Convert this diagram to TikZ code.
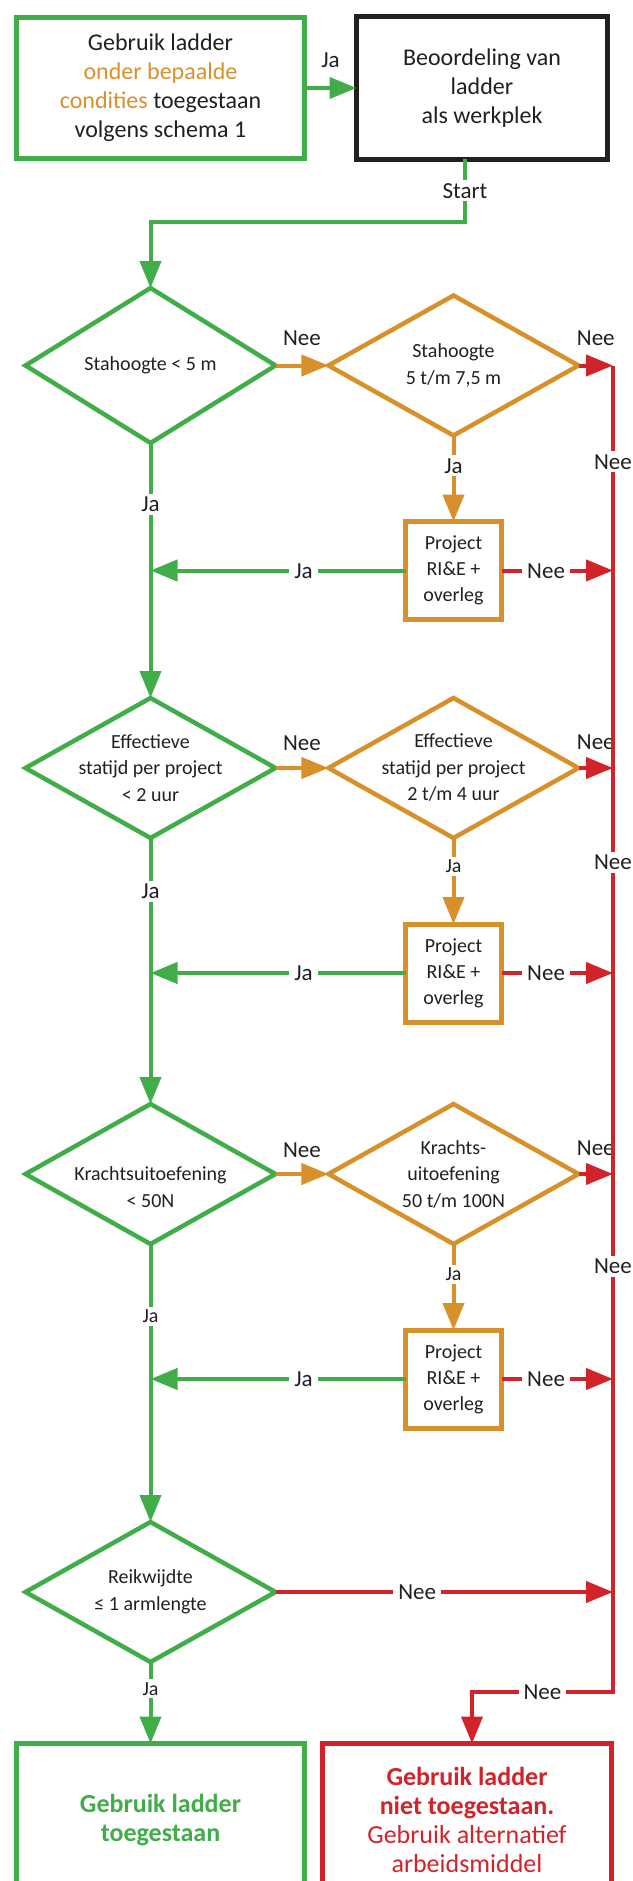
\documentclass[tikz,border=0pt]{standalone}
\usepackage{fontspec}
\setmainfont{Carlito}
\usetikzlibrary{arrows.meta,positioning,shapes.geometric}
\definecolor{grn}{HTML}{40AD49}
\definecolor{orng}{HTML}{D8902A}
\definecolor{rd}{HTML}{D2232A}
\definecolor{ink}{HTML}{231F20}
\newcommand{\fsz}[2]{\fontsize{#1pt}{#2pt}\selectfont}

\begin{document}
\begin{tikzpicture}[
  x=1pt, y=-1pt,
  every node/.style={outer sep=0pt, text=ink},
  box/.style={draw, line width=5pt, align=center, inner sep=0pt, font=\fsz{24}{29}},
  proj/.style={draw=orng, line width=5pt, align=center, minimum width=96pt, minimum height=98pt, inner sep=0pt, font=\fsz{20}{26}},
  dia/.style={diamond, draw, line width=4.5pt, align=center, inner sep=-50pt, minimum width=250pt, minimum height=140pt, font=\fsz{20}{26.5}},
  lbl/.style={fill=white, font=\fsz{23}{23}, inner xsep=5pt, inner ysep=3pt, text height=15pt, text depth=0pt},
  slbl/.style={lbl, font=\fsz{20}{20}, text height=13pt},
  arr/.style={-{Triangle[length=27pt,width=21pt]}, line width=4pt},
  garr/.style={arr, draw=grn},
  oarr/.style={arr, draw=orng},
  rarr/.style={arr, draw=rd}
]
  \useasboundingbox (0,0) rectangle (632,1881);
  \clip (0,0) rectangle (632,1881);

  % top row
  \node[box, draw=grn, minimum width=288pt, minimum height=141pt] (start) at (160.5,88)
    {Gebruik ladder\\\textcolor{orng}{onder bepaalde}\\\textcolor{orng}{condities} toegestaan\\volgens schema 1};
  \node[box, draw=ink, minimum width=251pt, minimum height=143pt, right=52pt of start] (assess)
    {Beoordeling van\\ladder\\als werkplek};

  % stahoogte
  \node[dia, draw=grn, minimum height=155pt] (h1) at (150.5,365.5) {Stahoogte < 5 m};
  \node[dia, draw=orng, right=53pt of h1] (h2) {Stahoogte\\5 t/m 7,5 m};
  \node[proj, below=86pt of h2] (p1) {Project\\RI\&E +\\overleg};

  % statijd
  \node[dia, draw=grn] (t1) at (150.5,768) {Effectieve\\statijd per project\\< 2 uur};
  \node[dia, draw=orng, right=53pt of t1] (t2) {Effectieve\\statijd per project\\2 t/m 4 uur};
  \node[proj, below=86pt of t2] (p2) {Project\\RI\&E +\\overleg};

  % kracht
  \node[dia, draw=grn] (k1) at (150.5,1174) {\rule{0pt}{40pt}Krachtsuitoefening\\< 50N};
  \node[dia, draw=orng, right=53pt of k1] (k2) {Krachts-\\uitoefening\\50 t/m 100N};
  \node[proj, below=86pt of k2] (p3) {Project\\RI\&E +\\overleg};

  % reikwijdte
  \node[dia, draw=grn] (r1) at (150.5,1592) {Reikwijdte\\≤ 1 armlengte};

  % outcomes
  \node[box, draw=grn, minimum width=288pt, minimum height=153pt, font=\fsz{26}{29}\bfseries, text=grn] (yes) at (160.5,1820)
    {Gebruik ladder\\toegestaan};
  \node[box, draw=rd, minimum width=289pt, minimum height=153pt, font=\fsz{26}{29}, text=rd] (no) at (467,1820)
    {\textbf{Gebruik ladder}\\\textbf{niet toegestaan.}\\Gebruik alternatief\\arbeidsmiddel};

  \coordinate (rail) at (613,0);
  \coordinate (turn) at (613,1692);
  \coordinate (drop) at ([xshift=5pt]no.north);

  \draw[garr] (start) -- node[lbl, above=17.5pt] {Ja} (assess);
  \draw[garr] ([xshift=-17pt]assess.south) -- node[lbl] {Start} ++(0,62.5) -| (h1.north);

  \draw[oarr] (h1) -- node[lbl, above=17.5pt] {Nee} (h2);
  \draw[rarr] (h2) -- node[lbl, above=17.5pt] {Nee} (h2 -| rail);
  \draw[oarr] (h2) -- node[lbl, pos=0.35] {Ja} (p1);
  \draw[garr] (p1) -- node[lbl, pos=0.4] {Ja} (p1 -| h1);
  \draw[rarr] (p1) -- node[lbl, pos=0.4] {Nee} (p1 -| rail);
  \draw[garr] (h1) -- node[lbl, pos=0.24] {Ja} (t1);

  \draw[oarr] (t1) -- node[lbl, above=15pt] {Nee} (t2);
  \draw[rarr] (t2) -- node[lbl, above=16pt] {Nee} (t2 -| rail);
  \draw[oarr] (t2) -- node[slbl, pos=0.33] {Ja} (p2);
  \draw[garr] (p2) -- node[lbl, pos=0.4] {Ja} (p2 -| t1);
  \draw[rarr] (p2) -- node[lbl, pos=0.4] {Nee} (p2 -| rail);
  \draw[garr] (t1) -- node[lbl, pos=0.2] {Ja} (k1);

  \draw[oarr] (k1) -- node[lbl, above=14pt] {Nee} (k2);
  \draw[rarr] (k2) -- node[lbl, above=16pt] {Nee} (k2 -| rail);
  \draw[oarr] (k2) -- node[slbl, pos=0.35] {Ja} (p3);
  \draw[garr] (p3) -- node[lbl, pos=0.4] {Ja} (p3 -| k1);
  \draw[rarr] (p3) -- node[lbl, pos=0.4] {Nee} (p3 -| rail);
  \draw[garr] (k1) -- node[slbl, pos=0.26] {Ja} (r1);

  \draw[rarr] (r1) -- node[lbl, pos=0.42] {Nee} (r1 -| rail);
  \draw[garr] (r1.south) -- node[slbl, pos=0.33] {Ja} (r1.south |- yes.north);

  % red rail
  \draw[rarr] (h2 -| rail) -- node[lbl, pos=0.47] {Nee} (p1 -| rail) -- (t2 -| rail)
    -- node[lbl, pos=0.46] {Nee} (p2 -| rail) -- (k2 -| rail)
    -- node[lbl, pos=0.45] {Nee} (p3 -| rail) -- (turn)
    -- node[lbl] {Nee} (turn -| drop) -- (drop);
\end{tikzpicture}
\end{document}
